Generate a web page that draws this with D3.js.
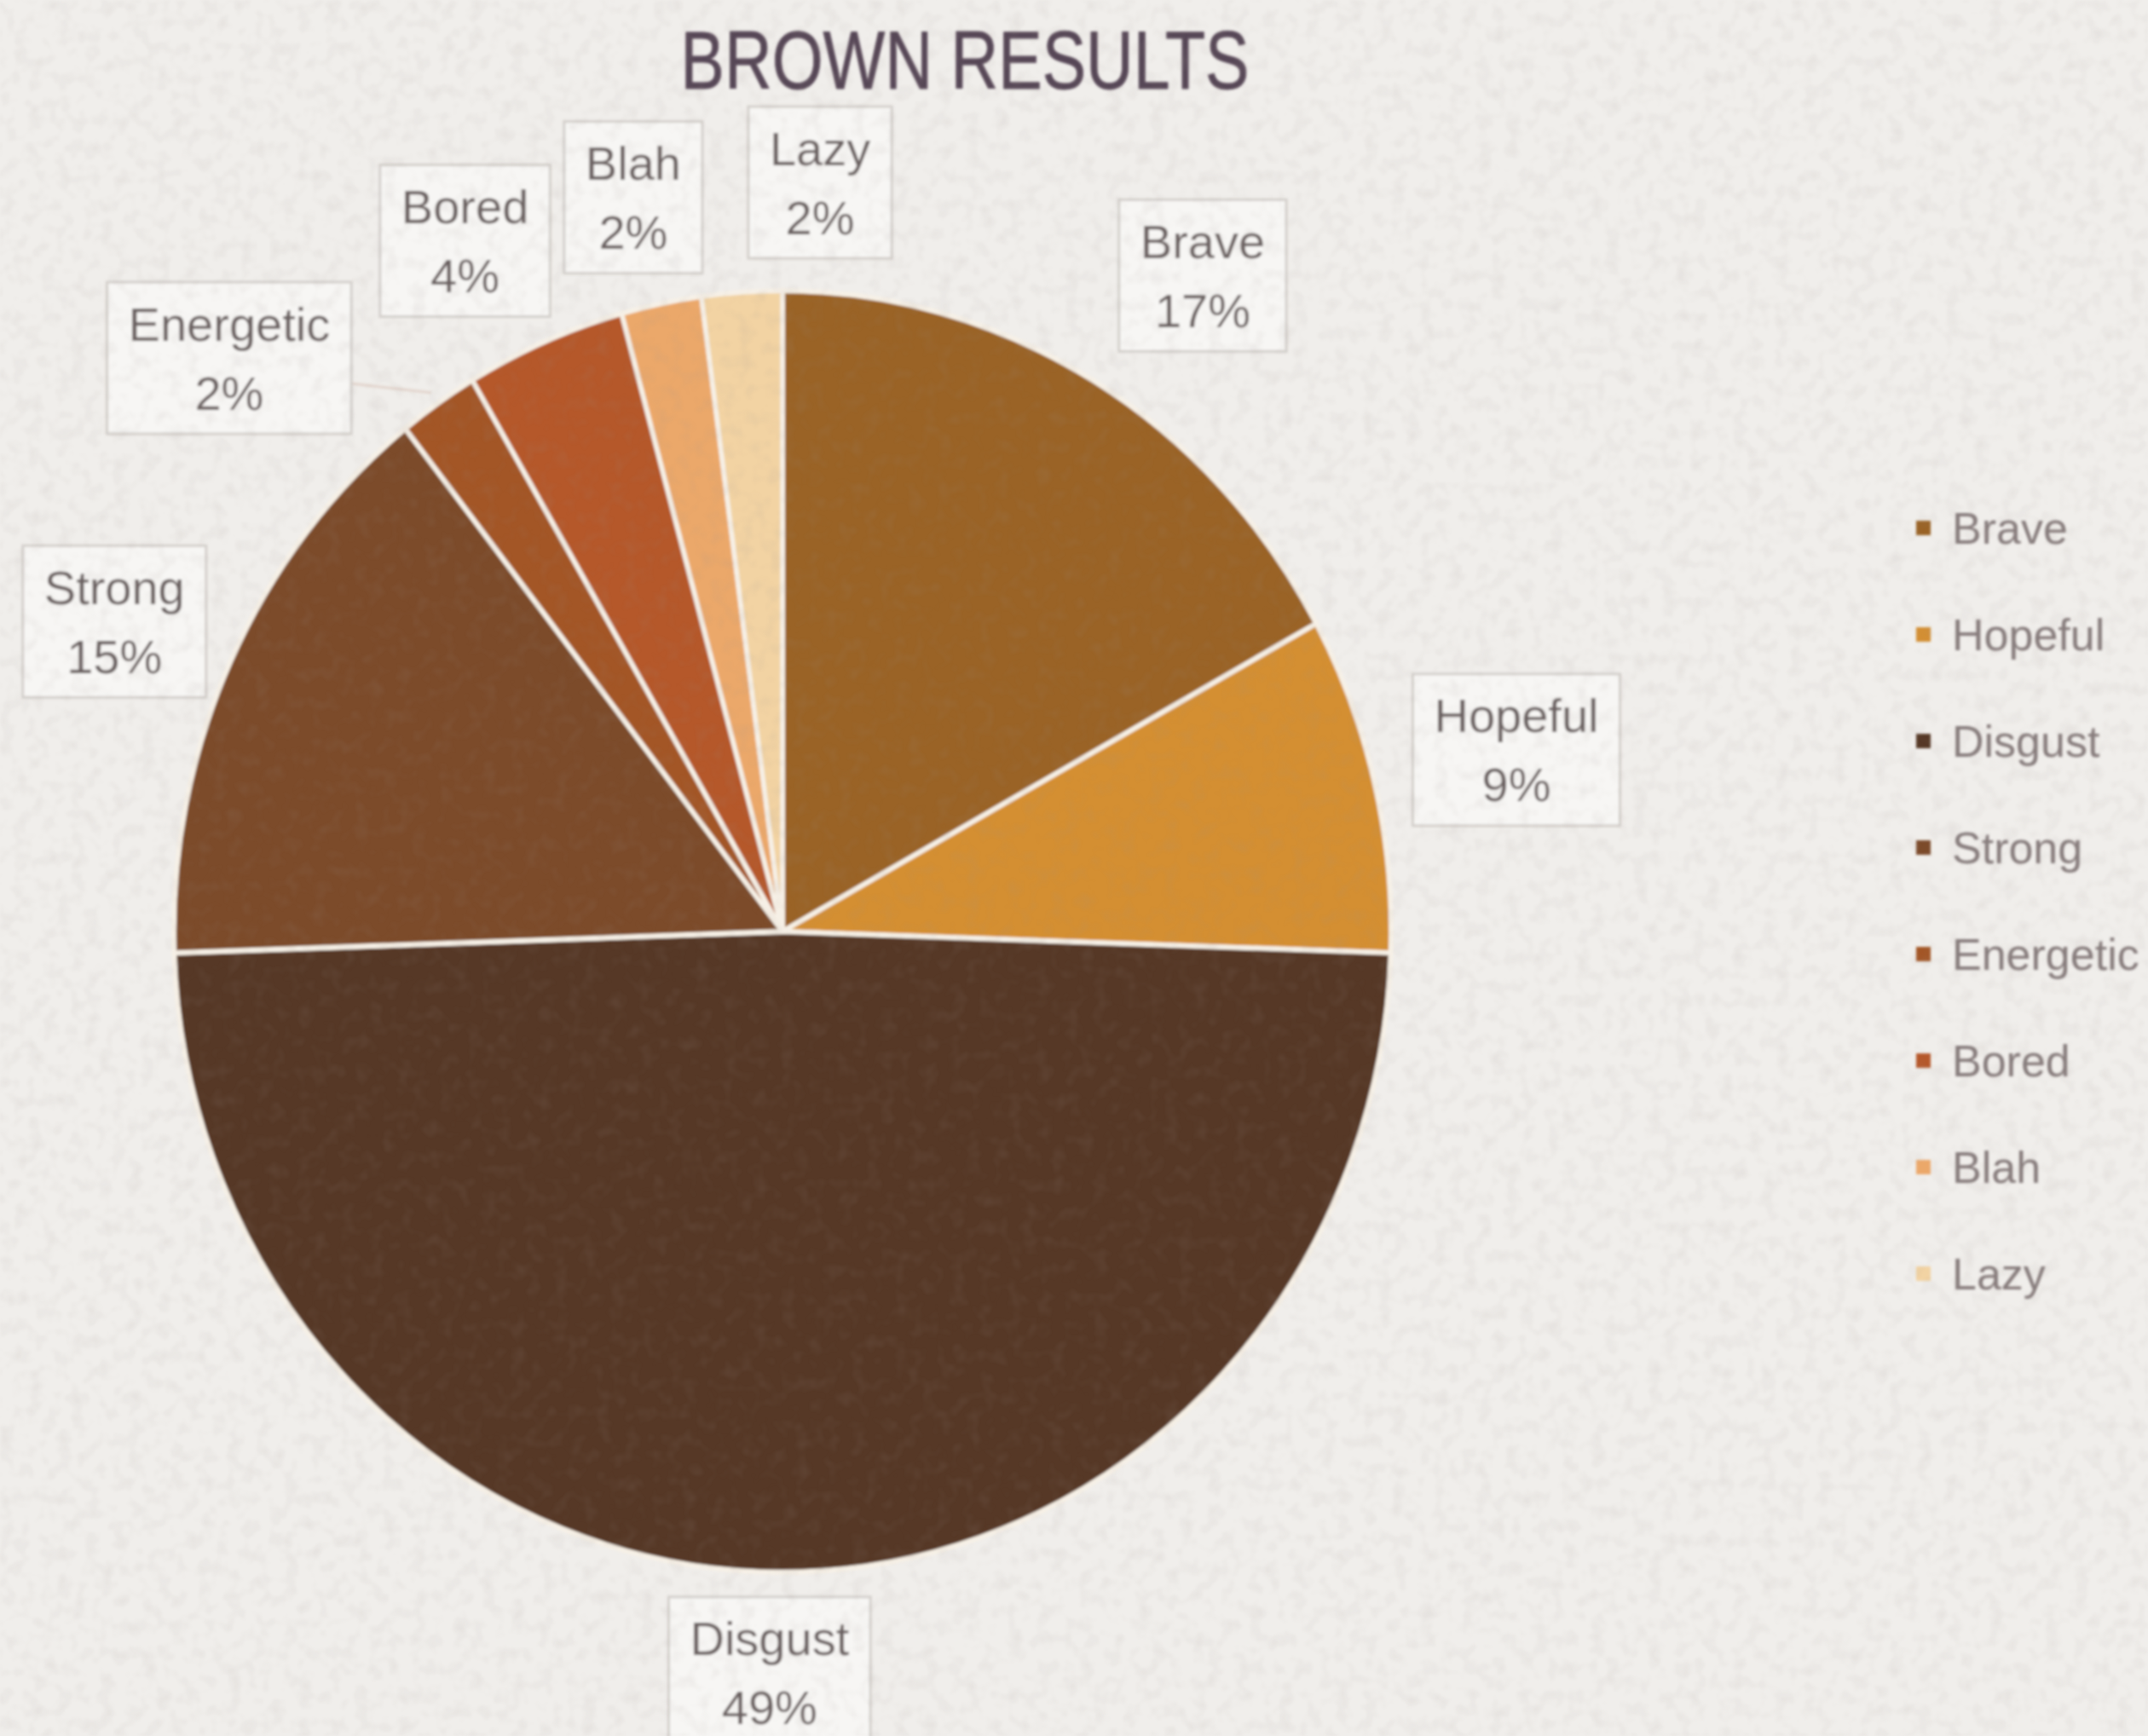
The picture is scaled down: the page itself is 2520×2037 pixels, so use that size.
<!DOCTYPE html>
<html>
<head>
<meta charset="utf-8">
<script src="https://cdn.jsdelivr.net/npm/d3@7"></script>
<style>
  html, body { margin: 0; padding: 0; background: #f0eeeb; }
  svg { display: block; }
</style>
</head>
<body>
<svg id="chart" width="2520" height="2037"></svg>
<script>
// Survey answers for the colour brown (number of responses)
const categories = ["Brave", "Hopeful", "Disgust", "Strong", "Energetic", "Bored", "Blah", "Lazy"];
const values = [8, 4, 23, 7, 1, 2, 1, 1];
const sliceColors = ["#9a6428", "#d48f30", "#573725", "#7b4b2a", "#a35626", "#b5582a", "#eba86a", "#f2d3a3"];
const chartTitle = "BROWN RESULTS";

// Layout
const W = 2520, H = 2037;
const cx = 918, cy = 1093, radius = 714, squash = 1.053;
const labelRadius = 885;
// angular nudges (degrees) and radial tweaks so neighbouring small-slice labels do not collide
const labelShift = [2, -0.5, 1, 0, -9.5, -1.7, 0, 6.7];
const labelRadialExtra = [29, 2, -15, -21, 50, 7, -6, -5];

const svg = d3.select("#chart");
const defs = svg.append("defs");

const soft = defs.append("filter").attr("id", "soft")
  .attr("x", "-5%").attr("y", "-5%").attr("width", "110%").attr("height", "110%");
soft.append("feGaussianBlur").attr("stdDeviation", 1.8);

const grain = defs.append("filter").attr("id", "grain")
  .attr("x", 0).attr("y", 0).attr("width", "100%").attr("height", "100%");
grain.append("feTurbulence").attr("type", "fractalNoise").attr("baseFrequency", 0.06)
  .attr("numOctaves", 2).attr("seed", 7).attr("result", "n");
grain.append("feColorMatrix").attr("type", "matrix")
  .attr("values", "0 0 0 0 0.35  0 0 0 0 0.3  0 0 0 0 0.28  0 0 0 -1.2 0.65");
grain.append("feGaussianBlur").attr("stdDeviation", 1.2);

svg.append("rect").attr("width", W).attr("height", H).attr("fill", "#f0eeeb");

const root = svg.append("g").attr("filter", "url(#soft)");

// Title
const title = root.append("text")
  .attr("x", 1132).attr("y", 104)
  .attr("text-anchor", "middle")
  .attr("font-family", "'Liberation Sans Narrow', 'Liberation Sans', Arial, sans-serif")
  .attr("font-size", 97)
  .attr("fill", "#574656")
  .attr("stroke", "#574656").attr("stroke-width", 0.8)
  .text(chartTitle);
title.attr("textLength", 667).attr("lengthAdjust", "spacingAndGlyphs");

// Pie
const total = d3.sum(values);
const pie = d3.pie().sort(null).value(d => d)(values);
const arc = d3.arc().innerRadius(0).outerRadius(radius);
const color = d3.scaleOrdinal().domain(categories).range(sliceColors);

const pieG = root.append("g")
  .attr("transform", `translate(${cx},${cy}) scale(1,${squash})`);

pieG.selectAll("path.slice")
  .data(pie)
  .join("path")
  .attr("class", "slice")
  .attr("d", arc)
  .attr("fill", (d, i) => color(categories[i]))
  .attr("stroke", "#f6f0e6")
  .attr("stroke-width", 5.5)
  .attr("stroke-linejoin", "round");

// Data labels
const fontFam = "'Liberation Sans', Arial, sans-serif";
const labelFont = 56;
const labelsG = root.append("g");

pie.forEach((d, i) => {
  const mid = (d.startAngle + d.endAngle) / 2 + labelShift[i] * Math.PI / 180;
  const r = labelRadius + labelRadialExtra[i];
  const lx = cx + r * Math.sin(mid);
  const ly = cy - r * Math.cos(mid);
  const pct = Math.round(d.value / total * 100) + "%";

  const g = labelsG.append("g").attr("transform", `translate(${lx},${ly})`);
  const box = g.append("rect");
  const t1 = g.append("text")
    .attr("x", 0).attr("y", -40)
    .attr("text-anchor", "middle").attr("dominant-baseline", "central")
    .attr("font-family", fontFam).attr("font-size", labelFont)
    .attr("fill", "#6a6060")
    .text(categories[i]);
  g.append("text")
    .attr("x", 0).attr("y", 41)
    .attr("text-anchor", "middle").attr("dominant-baseline", "central")
    .attr("font-family", fontFam).attr("font-size", labelFont)
    .attr("fill", "#6a6060")
    .text(pct);
  const w = t1.node().getComputedTextLength() + 50;
  const h = 178;
  box.attr("x", -w / 2).attr("y", -h / 2).attr("width", w).attr("height", h)
    .attr("fill", "#f7f6f4").attr("stroke", "#d3cfcb").attr("stroke-width", 3);

  // faint leader line for the label pushed furthest from its slice
  if (categories[i] === "Energetic") {
    const ea = (d.startAngle + d.endAngle) / 2;
    const ex = cx + radius * 1.02 * Math.sin(ea);
    const ey = cy - radius * squash * 1.02 * Math.cos(ea);
    labelsG.insert("line", ":first-child")
      .attr("x1", lx + w / 2).attr("y1", ly + 30)
      .attr("x2", ex).attr("y2", ey)
      .attr("stroke", "#e2d4cc").attr("stroke-width", 3);
  }
});

// Legend
const legendG = root.append("g").attr("transform", "translate(2248,620)");
const legendStep = 125;
categories.forEach((c, i) => {
  const row = legendG.append("g").attr("transform", `translate(0,${i * legendStep})`);
  row.append("rect")
    .attr("x", 0).attr("y", -9).attr("width", 17).attr("height", 17)
    .attr("fill", color(c));
  row.append("text")
    .attr("x", 42).attr("y", 0)
    .attr("dominant-baseline", "central")
    .attr("font-family", fontFam).attr("font-size", 52)
    .attr("fill", "#867c7c")
    .text(c);
});

// Paper grain over everything
svg.append("rect").attr("width", W).attr("height", H)
  .attr("filter", "url(#grain)").attr("opacity", 0.22);
</script>
</body>
</html>
